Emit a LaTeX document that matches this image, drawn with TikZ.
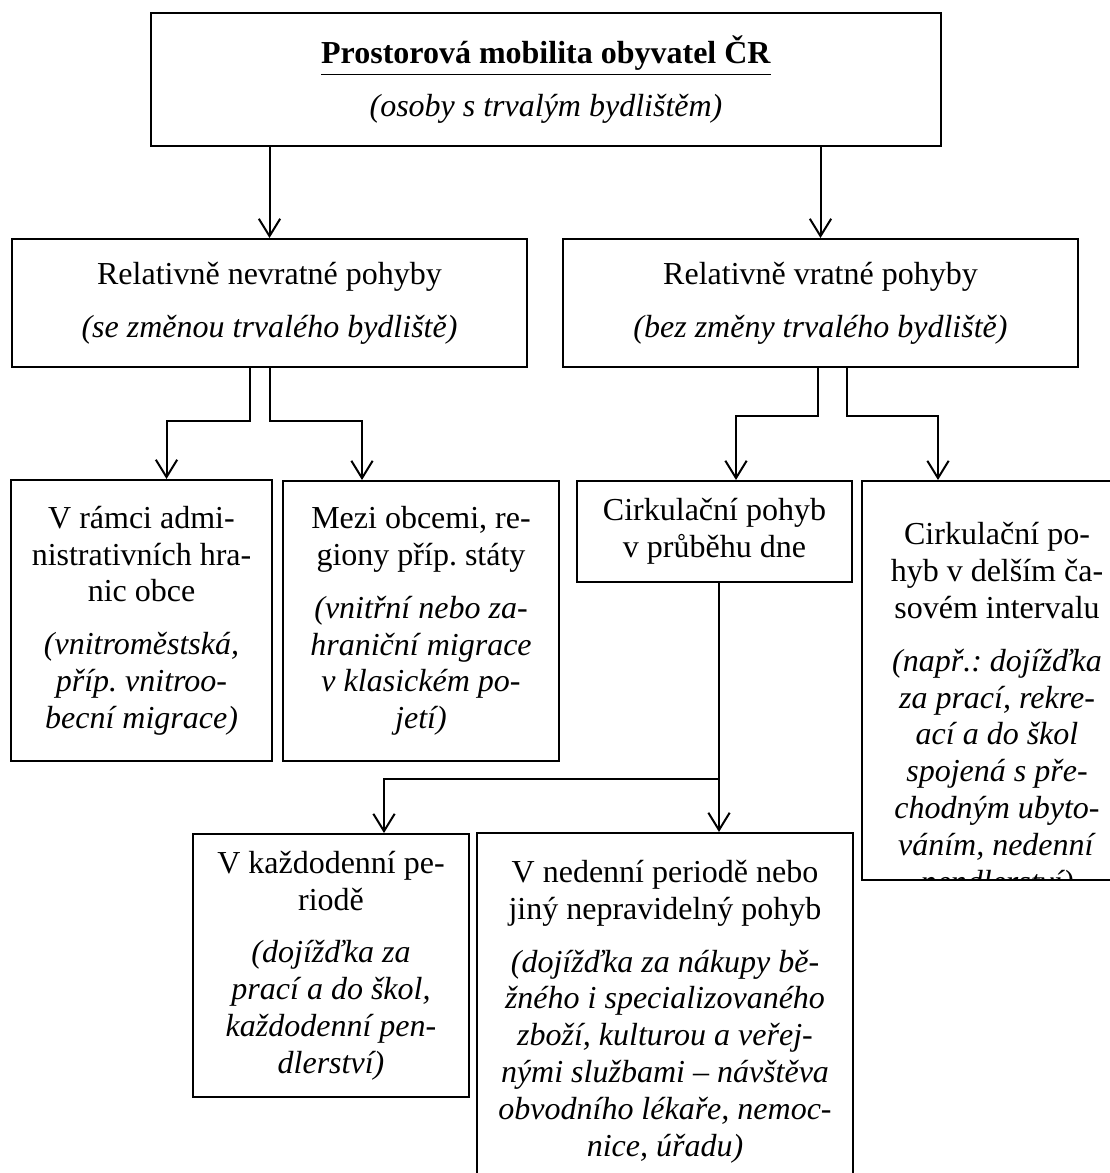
\documentclass[tikz,border=0pt]{standalone}
\usepackage{fontspec}
\setmainfont{Liberation Serif}
\usepackage{tikz}
\usetikzlibrary{arrows.meta, positioning, calc}
\frenchspacing

\begin{document}
\begin{tikzpicture}[
    x=0.375pt, y=-0.375pt,
    box/.style={draw, line width=0.75pt, inner sep=0pt, align=center, font=\fontsize{12pt}{13.8pt}\selectfont},
    txt/.style={inner sep=0pt, align=center, font=\fontsize{12pt}{13.8pt}\selectfont},
    arr/.style={line width=0.75pt, -{Straight Barb[length=6.5pt, width=8pt]}}
]
    \useasboundingbox (0,0) rectangle (1110,1173);

    % Top
    \node[box, minimum width=296.25pt, minimum height=49.9pt] (top) at (546,79.5)
        {\underline{\textbf{Prostorová mobilita obyvatel ČR}}\\[6pt]\textit{(osoby s trvalým bydlištěm)}};

    % Second level
    \node[box, minimum width=193.1pt, minimum height=48pt] (nevrat) at (269.5,303)
        {Relativně nevratné pohyby\\[6pt]\textit{(se změnou trvalého bydliště)}};
    \node[box, minimum width=193.1pt, minimum height=48pt] (vrat) at (820.5,303)
        {Relativně vratné pohyby\\[6pt]\textit{(bez změny trvalého bydliště)}};

    % Third level
    \node[box, minimum width=97.9pt, minimum height=105.4pt] (admin) at (141.5,620.5)
        {V rámci admi-\\nistrativních hra-\\nic obce\\[6pt]
         \textit{(vnitroměstská,}\\\textit{příp. vnitroo-}\\\textit{becní migrace)}};
    \node[box, minimum width=103.5pt, minimum height=105pt] (obce) at (421,621)
        {Mezi obcemi, re-\\giony příp. státy\\[6pt]
         \textit{(vnitřní nebo za-}\\\textit{hraniční migrace}\\\textit{v klasickém po-}\\\textit{jetí)}};
    \node[box, minimum width=103.1pt, minimum height=37.9pt] (circday) at (714.5,531.5)
        {Cirkulační pohyb\\v průběhu dne};
    \begin{scope}
        \clip (862,481) rectangle (1132,880);
        \node[txt, anchor=north] (longtxt) at (997,522)
            {Cirkulační po-\\hyb v delším ča-\\sovém intervalu\\[6pt]
             \textit{(např.: dojížďka}\\\textit{za prací, rekre-}\\\textit{ací a do škol}\\\textit{spojená s pře-}\\
             \textit{chodným ubyto-}\\\textit{váním, nedenní}\\\textit{pendlerství)}};
    \end{scope}
    \node[box, minimum width=101.25pt, minimum height=149.6pt] (circlong) at (997,680.5) {};

    % Fourth level
    \node[box, minimum width=103.5pt, minimum height=98.6pt] (daily) at (331,965.5)
        {V každodenní pe-\\riodě\\[6pt]
         \textit{(dojížďka za}\\\textit{prací a do škol,}\\\textit{každodenní pen-}\\\textit{dlerství)}};
    \node[box, minimum width=141pt, minimum height=133.9pt] (weekly) at (665,1011.5)
        {V nedenní periodě nebo\\jiný nepravidelný pohyb\\[6pt]
         \textit{(dojížďka za nákupy bě-}\\\textit{žného i specializovaného}\\\textit{zboží, kulturou a veřej-}\\
         \textit{nými službami -- návštěva}\\\textit{obvodního lékaře, nemoc-}\\\textit{nice, úřadu)}};

    % Arrows
    \draw[arr] (top.south -| nevrat.north) -- (nevrat.north);
    \draw[arr] (top.south -| vrat.north) -- (vrat.north);

    \draw[arr] ($(nevrat.south)+(-20,0)$) -- ++(0,53) -| ($(admin.north)+(25,0)$);
    \draw[arr] (nevrat.south) -- ++(0,53) -| ($(obce.north)+(-59,0)$);

    \draw[arr] ($(vrat.south)+(-2.5,0)$) -- ++(0,48) -| ($(circday.north)+(21.5,0)$);
    \draw[arr] ($(vrat.south)+(26.5,0)$) -- ++(0,48) -| ($(circlong.north)+(-59,0)$);

    \draw[arr] ($(circday.south)+(4.5,0)$) -- ++(0,196) -| ($(daily.north)+(53,0)$);
    \draw[arr] ($(circday.south)+(4.5,0)$) -- ($(weekly.north)+(54,0)$);
\end{tikzpicture}
\end{document}
